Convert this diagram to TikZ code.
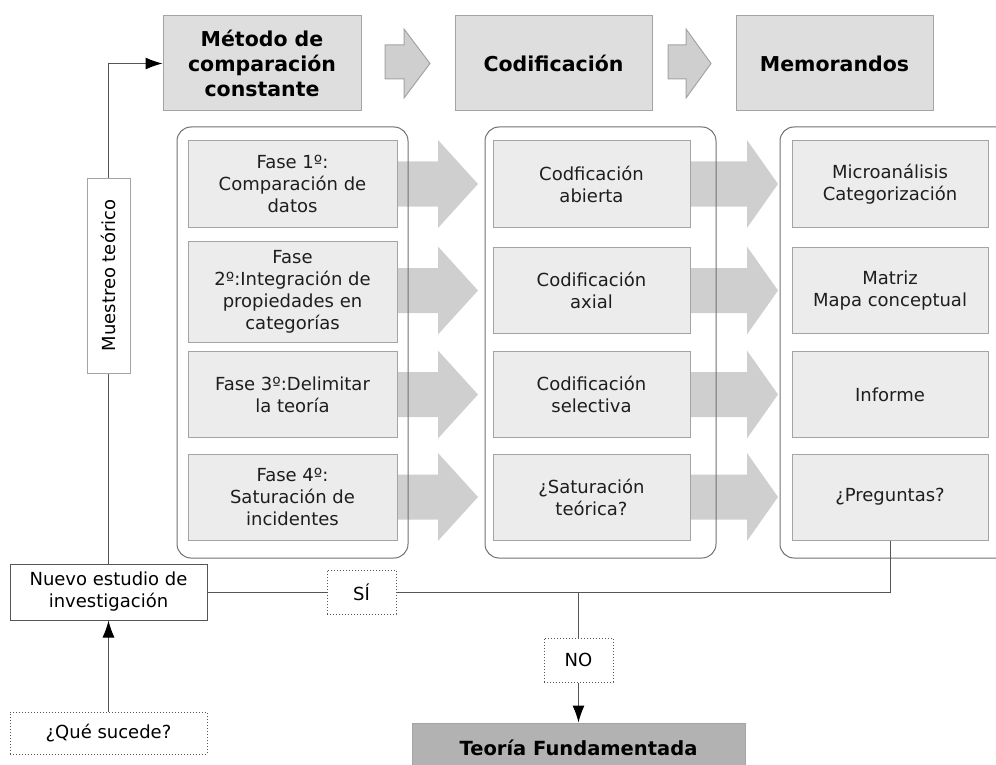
\documentclass[tikz,border=0pt]{standalone}
\usepackage{fontspec}
\setmainfont{DejaVu Sans}
\usepackage{tikz}
\usetikzlibrary{arrows.meta}

\definecolor{headgray}{HTML}{DEDEDE}
\definecolor{boxgray}{HTML}{ECECEC}
\definecolor{edgegray}{HTML}{A4A4A4}
\definecolor{arrowgray}{HTML}{CFCFCF}
\definecolor{framegray}{HTML}{707070}
\definecolor{linegray}{HTML}{555555}
\definecolor{teoriagray}{HTML}{B2B2B2}
\definecolor{textgray}{HTML}{1E1E1E}

\begin{document}
\begin{tikzpicture}[x=1pt, y=-1pt, line width=1pt,
  font=\fontsize{18}{22}\selectfont,
  header/.style={draw=edgegray, fill=headgray, align=center, inner sep=0pt,
    minimum height=95pt, font=\fontsize{20.5}{25}\selectfont\bfseries},
  phase/.style={draw=edgegray, fill=boxgray, align=center, inner sep=0pt,
    minimum height=86pt, text=textgray},
  plain/.style={draw=linegray, fill=white, align=center, inner sep=0pt},
  question/.style={draw=linegray, dotted, fill=white, align=center, inner sep=0pt},
  container/.style={draw=framegray, rounded corners=14pt},
  flow/.style={draw=linegray},
  tip/.style={-{Latex[length=17pt,width=12pt,black]}}
]
\useasboundingbox (0,0) rectangle (996,765);

%------------- big arrows between the columns
	\foreach \y in {184,290.5,394.5,497} {
		\fill[arrowgray] (380,\y-22.5) -- (438,\y-22.5) -- (438,\y-44) -- (478,\y)
			-- (438,\y+44) -- (438,\y+22.5) -- (380,\y+22.5) -- cycle;
		\fill[arrowgray] (670,\y-22.5) -- (747,\y-22.5) -- (747,\y-44) -- (778,\y)
			-- (747,\y+44) -- (747,\y+22.5) -- (670,\y+22.5) -- cycle;
	}

%------------- header arrows
	\filldraw[fill=arrowgray, draw=edgegray] (385,45) -- (404,45) -- (404,29) -- (430,63.5)
		-- (404,98) -- (404,79) -- (385,79) -- cycle;
	\filldraw[fill=arrowgray, draw=edgegray] (668,45) -- (686,45) -- (686,29) -- (711,63.5)
		-- (686,98) -- (686,79) -- (668,79) -- cycle;

%------------- containers
	\draw[container] (177,127) rectangle (408,558);
	\draw[container] (485,127) rectangle (716,558);
	\draw[container] (780,127) rectangle (1020,558);

%------------- headers
	\node[header, minimum width=198pt] (metodo) at (262,63.5) {Método de\\comparación\\constante};
	\node[header, minimum width=197pt] (codif) at (553.5,63.5) {Codificación};
	\node[header, minimum width=197pt] (memo) at (834.5,63.5) {Memorandos};

%------------- Fases
	\node[phase, minimum width=209pt] (f1) at (292.5,184) {Fase 1º:\\Comparación de\\datos};
	\node[phase, minimum width=209pt, minimum height=101pt] (f2) at (292.5,291.5) {Fase\\2º:Integración de\\propiedades en\\categorías};
	\node[phase, minimum width=209pt] (f3) at (292.5,394.5) {Fase 3º:Delimitar\\la teoría};
	\node[phase, minimum width=209pt] (f4) at (292.5,497) {Fase 4º:\\Saturación de\\incidentes};

%------------- Codificacion
	\node[phase, minimum width=197pt] (c1) at (591.5,184) {Codficación\\abierta};
	\node[phase, minimum width=197pt] (c2) at (591.5,290.5) {Codificación\\axial};
	\node[phase, minimum width=197pt] (c3) at (591.5,394.5) {Codificación\\selectiva};
	\node[phase, minimum width=197pt] (c4) at (591.5,497) {¿Saturación\\teórica?};

%------------- Memorandos
	\node[phase, minimum width=196pt] (m1) at (890,184) {Microanálisis\\Categorización};
	\node[phase, minimum width=196pt] (m2) at (890,290.5) {Matriz\\Mapa conceptual};
	\node[phase, minimum width=196pt] (m3) at (890,394.5) {Informe};
	\node[phase, minimum width=196pt] (m4) at (890,497) {¿Preguntas?};

%------------- loop
	\node[plain, draw=edgegray, rotate=90, minimum width=195pt, minimum height=43pt] (muestreo) at (108.5,275.5) {Muestreo teórico};
	\node[plain, minimum width=197pt, minimum height=56pt] (nuevo) at (108.5,592) {Nuevo estudio de\\investigación};
	\node[question, minimum width=197pt, minimum height=42pt] (sucede) at (108.5,733) {¿Qué sucede?};
	\node[question, minimum width=69pt, minimum height=44pt] (si) at (361.5,592) {SÍ};
	\node[question, minimum width=69pt, minimum height=44pt] (no) at (578.5,660) {NO};
	\node[draw=edgegray, fill=teoriagray, minimum width=333pt, minimum height=50pt,
		font=\fontsize{19.5}{24}\selectfont\bfseries] (teoria) at (578.5,748) {Teoría Fundamentada};
	\coordinate (split) at (578.5,592);

	\draw[flow] (nuevo) -- (muestreo);
	\draw[flow, tip] (muestreo) |- (metodo);
	\draw[flow, tip] (sucede) -- (nuevo);
	\draw[flow] (nuevo) -- (si);
	\draw[flow] (si) -| (m4);
	\draw[flow] (split) -- (no);
	\draw[flow, tip] (no) -- (teoria);

\end{tikzpicture}
\end{document}
